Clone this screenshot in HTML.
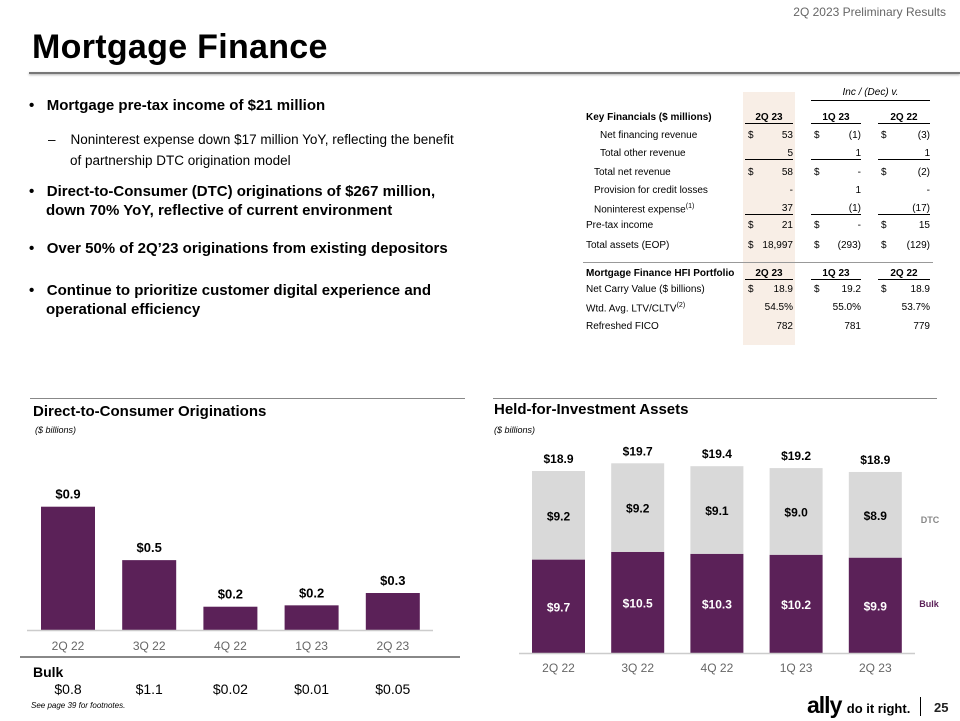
<!DOCTYPE html>
<html><head><meta charset="utf-8"><style>
body{margin:0;width:960px;height:720px;background:#fff;position:relative;overflow:hidden;font-family:"Liberation Sans",sans-serif;color:#000}
.a{position:absolute;white-space:nowrap}
.t{font-size:10px}
.r{text-align:right}
.b{font-weight:bold}
.ul{border-bottom:1px solid #000}
</style></head><body>
<div class="a" style="right:14px;top:5px;font-size:12px;color:#666">2Q 2023 Preliminary Results</div>
<div class="a b" style="left:32px;top:28px;font-size:34px;letter-spacing:0.3px">Mortgage Finance</div>
<div class="a" style="left:29px;top:72px;width:931px;height:2px;background:#777;box-shadow:0 1px 2px #aaa"></div>

<div>
<div class="a b" style="left:29px;top:97px;font-size:15px">•&nbsp;&nbsp;&nbsp;Mortgage pre-tax income of $21 million</div>
<div class="a" style="left:48px;top:129px;font-size:13.5px;line-height:21px">–&nbsp;&nbsp;&nbsp;&nbsp;Noninterest expense down $17 million YoY, reflecting the benefit<br><span style="padding-left:22px">of partnership DTC origination model</span></div>
<div class="a b" style="left:29px;top:182px;font-size:15px;line-height:19px">•&nbsp;&nbsp;&nbsp;Direct-to-Consumer (DTC) originations of $267 million,<br><span style="padding-left:17px">down 70% YoY, reflective of current environment</span></div>
<div class="a b" style="left:29px;top:240px;font-size:15px">•&nbsp;&nbsp;&nbsp;Over 50% of 2Q’23 originations from existing depositors</div>
<div class="a b" style="left:29px;top:281px;font-size:15px;line-height:19px">•&nbsp;&nbsp;&nbsp;Continue to prioritize customer digital experience and<br><span style="padding-left:17px">operational efficiency</span></div>
</div>

<div>
<div class="a" style="left:743px;top:92px;width:52px;height:253px;background:#f8eee6"></div>
<div class="a t" style="left:811px;top:87px;width:119px;text-align:center;font-style:italic;border-bottom:1px solid #000;padding-bottom:2px">Inc / (Dec) v.</div>
<div id="tbl"></div>
<div class="a" style="left:583px;top:262px;width:350px;height:1px;background:#999"></div>
</div>

<div class="a" style="left:30px;top:398px;width:435px;height:1px;background:#888"></div>
<div class="a" style="left:493px;top:398px;width:444px;height:1px;background:#888"></div>
<div class="a b" style="left:33px;top:403px;font-size:15px">Direct-to-Consumer Originations</div>
<div class="a" style="left:35px;top:425px;font-size:9px;font-style:italic">($ billions)</div>
<div class="a b" style="left:494px;top:401px;font-size:15px">Held-for-Investment Assets</div>
<div class="a" style="left:494px;top:425px;font-size:9px;font-style:italic">($ billions)</div>

<svg class="a" style="left:0;top:0" width="960" height="720" id="charts"></svg>

<div class="a" style="left:20px;top:656px;width:440px;height:2px;background:#888"></div>
<div class="a b" style="left:33px;top:664px;font-size:14px">Bulk</div>
<div class="a" style="left:31px;top:701px;font-size:8px;font-style:italic">See page 39 for footnotes.</div>
<div class="a b" style="left:807px;top:693px;font-size:23px;letter-spacing:-1px;line-height:24px">ally <span style="font-size:13px;letter-spacing:0">do it right.</span></div>
<div class="a" style="left:920px;top:697px;width:1px;height:19px;background:#000"></div>
<div class="a" style="left:934px;top:700px;font-size:13px;font-weight:bold;color:#222">25</div>

<script>
var rowLabels=["Net financing revenue","Total other revenue","Total net revenue","Provision for credit losses","Noninterest expense<sup style='font-size:7px'>(1)</sup>","Pre-tax income","Total assets (EOP)"];
var rowIndent=[14,14,8,8,8,0,0];
var col2Q23=["53","5","58","-","37","21","18,997"];
var col1Q23=["(1)","1","-","1","(1)","-","(293)"];
var col2Q22=["(3)","1","(2)","-","(17)","15","(129)"];
var dollarRow=[true,false,true,false,false,true,true];
var ulRow=[false,true,false,false,true,false,false];
var rowY=[130,148,167,185,203,220,240];
var hfiLabels=["Net Carry Value ($ billions)","Wtd. Avg. LTV/CLTV<sup style='font-size:7px'>(2)</sup>","Refreshed FICO"];
var hfi2Q23=["18.9","54.5%","782"],hfi1Q23=["19.2","55.0%","781"],hfi2Q22=["18.9","53.7%","779"];
var hfiDollar=[true,false,false];
var hfiY=[284,302,321];
var tbl=document.getElementById('tbl');
function txt(x,y,w,html,cls,name){var d=document.createElement('div');d.className='a t '+(cls||'');d.style.left=x+'px';d.style.top=y+'px';if(w)d.style.width=w+'px';d.innerHTML=html;


tbl.appendChild(d);return d;}
txt(586,112,null,'Key Financials ($ millions)','b','table-header-label');
txt(586,268,null,'Mortgage Finance HFI Portfolio','b','hfi-header-label');
var cols=[[745,48,col2Q23,hfi2Q23,'2Q 23'],[811,50,col1Q23,hfi1Q23,'1Q 23'],[878,52,col2Q22,hfi2Q22,'2Q 22']];
cols.forEach(function(c){
  var d=txt(c[0],112,c[1],c[4],'b ul','col-header');d.style.textAlign='center';
  var e=txt(c[0],268,c[1],c[4],'b ul','hfi-col-header');e.style.textAlign='center';});
rowLabels.forEach(function(l,i){
  txt(586+rowIndent[i],rowY[i],null,l,'','row-label');
  cols.forEach(function(c){
    txt(c[0],rowY[i],c[1],c[2][i],'r'+(ulRow[i]?' ul':''),'cell-value');
    if(dollarRow[i])txt(c[0]+3,rowY[i],null,'$','','dollar-sign');
  });
});
hfiLabels.forEach(function(l,i){
  txt(586,hfiY[i],null,l,'','hfi-row-label');
  cols.forEach(function(c){txt(c[0],hfiY[i],c[1],c[3][i],'r','hfi-cell-value');
    if(hfiDollar[i])txt(c[0]+3,hfiY[i],null,'$','','dollar-sign');});
});

var dtcCategories=["2Q 22","3Q 22","4Q 22","1Q 23","2Q 23"];
var dtcValues=[0.9,0.51,0.17,0.18,0.27];
var dtcLabels=["$0.9","$0.5","$0.2","$0.2","$0.3"];
var bulkValues=["$0.8","$1.1","$0.02","$0.01","$0.05"];
var hfiCategories=["2Q 22","3Q 22","4Q 22","1Q 23","2Q 23"];
var hfiBulk=[9.7,10.5,10.3,10.2,9.9];
var hfiDTC=[9.2,9.2,9.1,9.0,8.9];
var hfiTotals=["$18.9","$19.7","$19.4","$19.2","$18.9"];

var svg=document.getElementById('charts'),NS='http://www.w3.org/2000/svg';
function el(tag,attrs,name){var e=document.createElementNS(NS,tag);for(var k in attrs)e.setAttribute(k,attrs[k]);


svg.appendChild(e);return e;}
function text(x,y,s,attrs,name){var t=el('text',Object.assign({x:x,y:y,'text-anchor':'middle','font-family':'Liberation Sans, sans-serif'},attrs),name);t.textContent=s;return t;}
var purple='#5b2158',grey='#d9d9d9';
var dX=function(i){return 68+i*81.2;}, dBase=630, dScale=137;
var dY=function(v){return dBase-v*dScale;};
dtcValues.forEach(function(v,i){
  el('rect',{x:dX(i)-27,y:dY(v),width:54,height:dBase-dY(v),fill:purple},'dtc-bar-'+i);
  text(dX(i),dY(v)-8,dtcLabels[i],{'font-size':13,'font-weight':'bold'},'dtc-value-label');
  text(dX(i),650,dtcCategories[i],{'font-size':12,fill:'#666'},'dtc-category-label');
  text(dX(i),694,bulkValues[i],{'font-size':14},'bulk-value');
});
el('line',{x1:27,x2:433,y1:dBase+0.5,y2:dBase+0.5,stroke:'#ccc','stroke-width':1.5},'dtc-x-axis');
var hX=function(i){return 558.5+i*79.2;}, hBase=653, hScale=9.63;
var hY=function(v){return hBase-v*hScale;};
hfiBulk.forEach(function(b,i){
  var d=hfiDTC[i];
  el('rect',{x:hX(i)-26.5,y:hY(b),width:53,height:hBase-hY(b),fill:purple},'hfi-bulk-bar-'+i);
  el('rect',{x:hX(i)-26.5,y:hY(b+d),width:53,height:hY(b)-hY(b+d),fill:grey},'hfi-dtc-bar-'+i);
  text(hX(i),(hY(b)+hBase)/2+5,'$'+b.toFixed(1),{'font-size':12,'font-weight':'bold',fill:'#fff'},'hfi-bulk-label');
  text(hX(i),(hY(b)+hY(b+d))/2+5,'$'+d.toFixed(1),{'font-size':12,'font-weight':'bold'},'hfi-dtc-label');
  text(hX(i),hY(b+d)-8,hfiTotals[i],{'font-size':12,'font-weight':'bold'},'hfi-total-label');
  text(hX(i),672,hfiCategories[i],{'font-size':12,fill:'#666'},'hfi-category-label');
});
el('line',{x1:519,x2:915,y1:hBase+0.5,y2:hBase+0.5,stroke:'#ccc','stroke-width':1.5},'hfi-x-axis');
text(930,523,'DTC',{'font-size':9,'font-weight':'bold',fill:'#888'},'legend-dtc');
text(929,607,'Bulk',{'font-size':9,'font-weight':'bold',fill:purple},'legend-bulk');
</script>
</body></html>
